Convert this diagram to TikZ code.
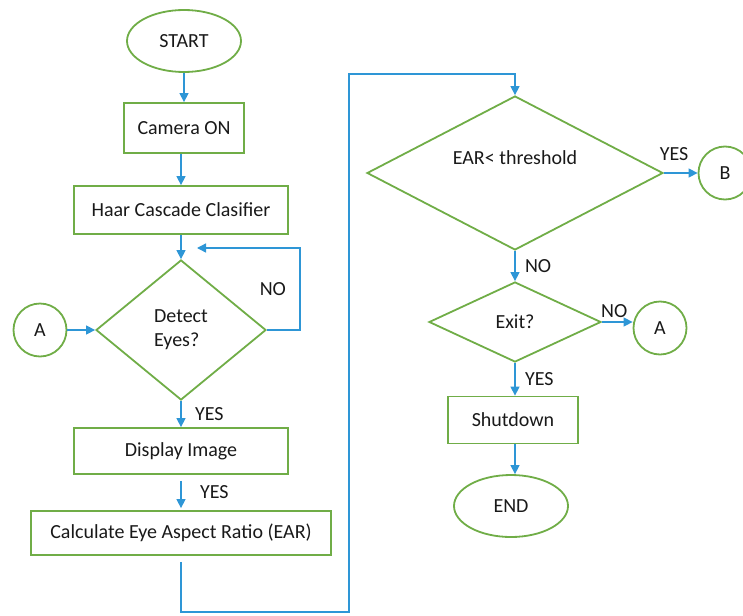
\documentclass[tikz,border=0pt]{standalone}
\usepackage{fontspec}
\setmainfont{Carlito}
\usepackage{tikz}
\usetikzlibrary{shapes.geometric,arrows.meta}
\definecolor{boxgreen}{RGB}{112,173,71}
\definecolor{flowblue}{RGB}{46,150,214}

\begin{document}
\begin{tikzpicture}[x=1pt,y=-1pt,
    every node/.style={font=\fontsize{20}{24}\selectfont, text=black!90},
    term/.style={ellipse,draw=boxgreen,line width=1.8pt,minimum width=114pt,minimum height=62pt,inner sep=0pt},
    proc/.style={rectangle,draw=boxgreen,line width=1.8pt,inner sep=0pt},
    dec/.style={diamond,draw=boxgreen,line width=1.8pt,inner sep=0pt},
    conn/.style={circle,draw=boxgreen,line width=1.8pt,minimum size=53pt,inner sep=0pt},
    flow/.style={draw=flowblue,line width=1.4pt,-{Triangle[length=9pt,width=9pt]}}]
        \useasboundingbox (0,0) rectangle (743,615);
        % left column
        \node[term] (start) at (184,41) {START};
        \node[proc,minimum width=120pt,minimum height=50pt] (camera) at (184,128) {Camera ON};
        \node[proc,minimum width=214pt,minimum height=48pt] (haar) at (181,210) {Haar Cascade Clasifier};
        \node[dec,minimum width=170pt,minimum height=140pt,align=left] (detect) at (181,330) {Detect\\Eyes?};
        \node[conn] (conA) at (40,330) {A};
        \node[proc,minimum width=214pt,minimum height=46pt] (display) at (181,451) {Display Image};
        \node[proc,minimum width=300pt,minimum height=44pt] (calc) at (181,533) {Calculate Eye Aspect Ratio (EAR)};
        % right column
        \node[dec,minimum width=296pt,minimum height=154pt] (ear) at (515,173) {};
        \node (eartext) at (515,158) {EAR< threshold};
        \node[conn] (conB) at (725,173) {B};
        \node[dec,minimum width=172pt,minimum height=80pt] (exit) at (515,322) {Exit?};
        \node[conn] (conA2) at (660,328) {A};
        \node[proc,minimum width=130pt,minimum height=47pt] (shutdown) at (513,420) {Shutdown};
        \node[term] (stop) at (511,506) {END};
        % bends
        \coordinate (loopcorner) at (300,248);
        \coordinate (loopend) at (197,248);
        \coordinate (lowbend) at (349,612);
        \coordinate (topbend) at (349,74);
        \draw
        (start) edge[flow] (camera)
        (camera.south -| haar.north) edge[flow] (haar)
        (haar) edge[flow] (detect)
        (conA) edge[flow] (detect)
        (detect) edge[flow] node[right=10pt] {YES} (display)
        (display) edge[flow,shorten <=6pt,shorten >=2pt] node[right=15pt] {YES} (calc)
        (ear) edge[flow] node[above=8pt,pos=0.3] {YES} (conB)
        (ear) edge[flow] node[right=6pt] {NO} (exit)
        (exit.east) edge[flow] node[above,pos=0.4] {NO} (exit.east -| conA2.west)
        (exit.south) edge[flow] node[right=6pt] {YES} (exit.south |- shutdown.north)
        (shutdown.south -| exit.south) edge[flow] (exit.south |- stop.north)
        ;
        \draw[flow] (detect.east) -| node[pos=0.75,left=10pt] {NO} (loopcorner) -- (loopend);
        \draw[flow,shorten <=6pt] (calc.south) |- (lowbend) -- (topbend) -| (ear.north);
\end{tikzpicture}
\end{document}
